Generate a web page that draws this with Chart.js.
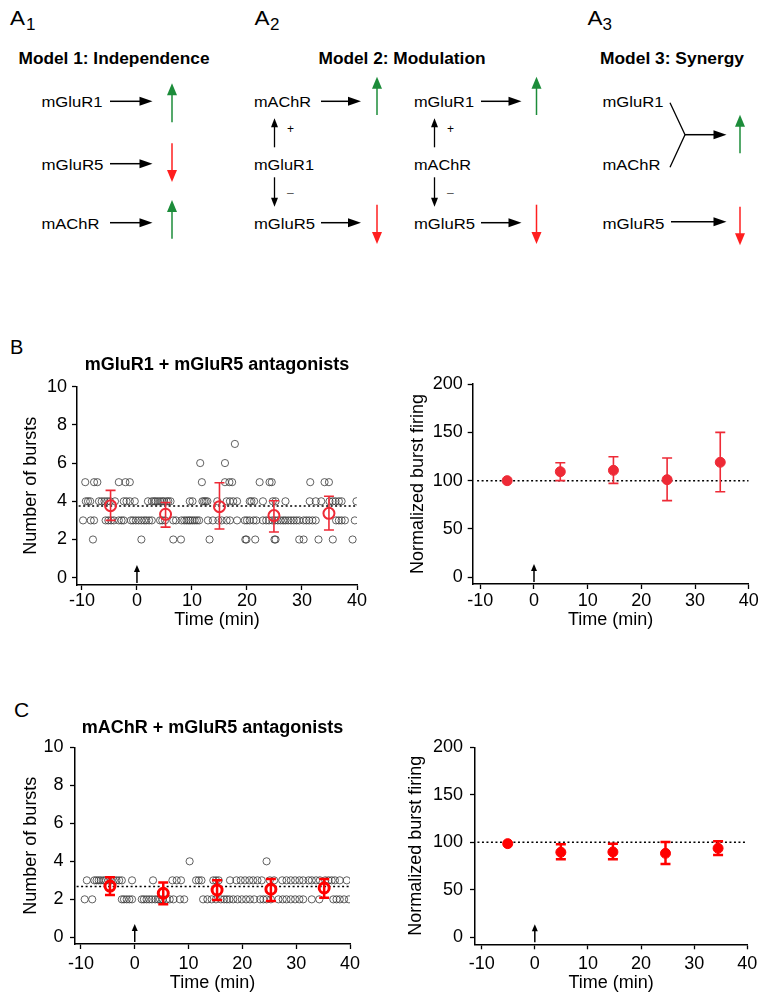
<!DOCTYPE html>
<html>
<head>
<meta charset="utf-8">
<script src="https://cdn.jsdelivr.net/npm/chart.js@4.4.0/dist/chart.umd.min.js"></script>
<style>
  body { margin: 0; background: #fff; width: 772px; height: 1006px; position: relative; overflow: hidden;
         font-family: "Liberation Sans", Arial, Helvetica, sans-serif; }
  canvas, svg, .lbl { position: absolute; }
  .lbl { color: #000; line-height: 1; }
</style>
</head>
<body>
<svg id="diagram" width="772" height="300" style="left:0;top:0"></svg>
<div class="lbl" style="left:10px;top:337px;font-size:20px">B</div>
<div class="lbl" style="left:14px;top:699px;font-size:21px">C</div>
<canvas id="bLeft" width="380" height="300" style="left:0;top:340px"></canvas>
<canvas id="bRight" width="377" height="300" style="left:395px;top:340px"></canvas>
<canvas id="cLeft" width="380" height="300" style="left:0;top:700px"></canvas>
<canvas id="cRight" width="377" height="300" style="left:395px;top:700px"></canvas>
<script>
const FONT = '"Liberation Sans", Arial, Helvetica, sans-serif';

// axes
const timeTicks = [-10, 0, 10, 20, 30, 40];
const countTicks = [0, 2, 4, 6, 8, 10];
const normTicks = [0, 50, 100, 150, 200];
const drugTime = 0;

// B: mGluR1 + mGluR5 antagonists -- minute-by-minute burst counts, times listed per count
const bTimes2 = [-8.0, 0.8, 6.6, 8.0, 13.2, 19.7, 19.9, 21.5, 25.0, 25.2, 29.5, 30.3, 33.0, 35.6, 39.2];
const bTimes3 = [-9.8, -8.4, -7.8, -5.7, -5.2, -4.7, -4.2, -3.3, -2.8, -2.4, -1.1, -0.7, -0.2, 0.3, 0.8, 1.3, 1.7,
  2.2, 2.7, 4.2, 4.6, 5.1, 6.6, 7.1, 8.1, 8.6, 9.0, 9.4, 9.7, 10.1, 10.5, 10.9, 11.3, 12.9, 13.8, 14.8, 15.4,
  16.3, 16.9, 18.2, 19.6, 20.0, 20.5, 21.2, 21.7, 22.9, 23.5, 24.0, 24.6, 25.1, 25.6, 26.1, 26.6, 27.0, 27.5,
  28.0, 28.5, 29.0, 29.5, 30.3, 30.8, 31.3, 31.9, 32.5, 36.2, 36.7, 37.2, 37.8, 39.6];
const bTimes4 = [-9.3, -8.9, -8.5, -6.9, -6.4, -5.9, -5.4, -4.9, -4.0, -2.4, -1.9, -1.3, -0.4, 2.0, 2.7, 3.1, 3.4,
  3.8, 4.2, 4.6, 4.9, 5.4, 5.7, 6.1, 9.6, 10.1, 11.9, 12.2, 12.5, 12.8, 14.6, 16.3, 16.9, 17.5, 18.2, 20.5,
  20.8, 21.3, 22.9, 24.7, 25.2, 27.0, 31.4, 32.5, 33.5, 35.0, 35.6, 36.1, 36.7, 37.2, 39.9];
const bTimes5 = [-9.4, -7.8, -7.2, -3.3, -2.1, -1.3, 11.8, 16.0, 16.8, 17.3, 22.3, 24.1, 24.5, 31.5, 34.1, 34.9];
const bTimes6 = [11.5, 16.0];
const bTimes7 = [17.8];
const bMeanTimes = [-4.8, 5.2, 15, 24.9, 34.9];
const bMean = [3.77, 3.32, 3.72, 3.25, 3.37];
const bLow = [3.0, 2.65, 2.55, 2.39, 2.5];
const bHigh = [4.57, 3.94, 4.97, 4.03, 4.26];
const bBaseline = 3.75;

const bNormTimes = [-5, 4.9, 14.8, 24.8, 34.7];
const bNorm = [100, 109.3, 110.7, 101, 119];
const bNormLow = [null, 100, 97.2, 79.3, 88.6];
const bNormHigh = [null, 118.6, 124.8, 123.4, 150];

// C: mAChR + mGluR5 antagonists
const cTimes2 = [-9.3, -7.9, -2.4, -2.0, -1.5, -1.0, -0.5, 1.3, 1.7, 2.2, 2.7, 3.2, 3.8, 4.3, 4.7, 5.2, 5.9, 6.5,
  7.2, 8.4, 9.2, 12.7, 13.5, 14.3, 15.1, 16.0, 16.6, 17.1, 17.6, 18.3, 19.1, 19.9, 20.7, 21.4, 22.2, 23.3, 23.9,
  24.5, 25.3, 26.7, 27.5, 28.2, 29.0, 29.8, 30.6, 31.3, 32.9, 34.3, 36.9, 37.5, 38.1, 38.9, 39.8];
const cTimes3 = [-8.9, -7.5, -7.1, -6.7, -6.3, -5.8, -5.4, -4.9, -4.4, -3.9, -3.4, -2.9, -2.4, -0.5, 3.4, 7.0, 7.8,
  8.6, 11.4, 11.9, 12.4, 14.6, 15.1, 15.6, 17.7, 18.9, 19.7, 20.5, 21.3, 22.0, 22.8, 23.6, 25.1, 25.9, 27.4,
  28.2, 29.0, 29.8, 30.6, 31.3, 32.3, 32.9, 33.7, 34.4, 35.4, 36.0, 36.6, 37.2, 38.1, 39.4];
const cTimes4 = [10.2, 24.5];
const cMeanTimes = [-4.6, 5.3, 15.3, 25.3, 35.2];
const cMean = [2.70, 2.32, 2.49, 2.53, 2.60];
const cLow = [2.23, 1.74, 1.96, 1.91, 2.09];
const cHigh = [3.16, 2.89, 3.0, 3.07, 3.07];
const cBaseline = 2.68;

const cNormTimes = [-5.1, 4.9, 14.7, 24.6, 34.5];
const cNorm = [98.6, 89.5, 89.8, 88.4, 93.7];
const cNormLow = [null, 82.1, 82.1, 77.2, 86.7];
const cNormHigh = [null, 97.9, 98.6, 100.4, 101];
const normBaseline = 100;

function toPoints(rows) {
  return rows.flatMap(([n, ts]) => ts.map(t => ({x: t, y: n})));
}

// error bars + drug arrow
const extrasPlugin = {
  id: 'extras',
  afterDatasetsDraw(chart, args, o) {
    const {ctx, chartArea} = chart;
    const x = chart.scales.x, y = chart.scales.y;
    ctx.save();
    ctx.strokeStyle = o.color;
    ctx.lineWidth = o.barWidth;
    o.times.forEach((t, i) => {
      if (o.low[i] == null) return;
      const px = x.getPixelForValue(t);
      const lo = y.getPixelForValue(o.low[i]);
      const hi = y.getPixelForValue(o.high[i]);
      ctx.beginPath();
      ctx.moveTo(px, lo); ctx.lineTo(px, hi);
      ctx.moveTo(px - o.cap, lo); ctx.lineTo(px + o.cap, lo);
      ctx.moveTo(px - o.cap, hi); ctx.lineTo(px + o.cap, hi);
      ctx.stroke();
    });
    const ax = x.getPixelForValue(drugTime);
    const base = chartArea.bottom - 2, tip = chartArea.bottom - 20;
    ctx.strokeStyle = '#000';
    ctx.fillStyle = '#000';
    ctx.lineWidth = 1.5;
    ctx.beginPath();
    ctx.moveTo(ax, base); ctx.lineTo(ax, tip + 6);
    ctx.stroke();
    ctx.beginPath();
    ctx.moveTo(ax, tip); ctx.lineTo(ax - 3, tip + 7); ctx.lineTo(ax + 3, tip + 7);
    ctx.closePath();
    ctx.fill();
    ctx.restore();
  }
};

function buildChart(id, o) {
  const datasets = [];
  if (o.scatter) {
    datasets.push({
      data: o.scatter, order: 3,
      pointRadius: 3.6, pointBorderWidth: 0.8,
      pointBorderColor: '#3a3a3a', pointBackgroundColor: 'rgba(0,0,0,0)'
    });
  }
  datasets.push({
    data: [{x: o.lineFrom, y: o.baseline}, {x: 40, y: o.baseline}], order: 2,
    showLine: true, borderColor: '#000', borderWidth: 1.5, borderDash: [2, 2.5], pointRadius: 0
  });
  datasets.push({
    data: o.meanTimes.map((t, i) => ({x: t, y: o.mean[i]})), order: 1,
    pointRadius: o.meanR, pointBorderWidth: o.meanW, pointBorderColor: o.color,
    pointBackgroundColor: o.filled ? o.color : 'rgba(0,0,0,0)'
  });
  const tickFont = {family: FONT, size: 18};
  return new Chart(document.getElementById(id), {
    type: 'scatter',
    data: {datasets},
    options: {
      responsive: false,
      animation: false,
      events: [],
      layout: {padding: {top: o.padTop || 0, right: o.padRight, left: 0, bottom: 0}},
      plugins: {
        legend: {display: false},
        tooltip: {enabled: false},
        title: {
          display: !!o.title, text: o.title, fullSize: false, color: '#000',
          font: {family: FONT, size: 18, weight: 'bold', lineHeight: 1.2},
          padding: {top: o.titleTop || 0, bottom: o.titleBottom || 0}
        },
        extras: {times: o.meanTimes, low: o.low, high: o.high, color: o.color, barWidth: o.barW, cap: 5}
      },
      scales: {
        x: {
          type: 'linear', min: o.xMin, max: 40,
          afterBuildTicks: s => { s.ticks = timeTicks.map(v => ({value: v})); },
          afterFit: s => { s.height = o.xh; s.paddingLeft = 0; s.paddingRight = 0; },
          grid: {drawOnChartArea: false, drawTicks: true, tickLength: 5, tickColor: '#000', tickWidth: 1.3},
          border: {display: true, color: '#000', width: 1.5},
          ticks: {color: '#000', font: tickFont, padding: o.xTickPad, autoSkip: false, maxRotation: 0},
          title: {display: true, text: 'Time (min)', color: '#000', font: tickFont,
                  padding: {top: 0, bottom: o.xTitlePad}}
        },
        y: {
          type: 'linear', min: o.yMin, max: o.yMax,
          afterBuildTicks: s => { s.ticks = o.yTicks.map(v => ({value: v})); },
          afterFit: s => { s.width = o.yw; s.paddingTop = 0; s.paddingBottom = 0; },
          grid: {drawOnChartArea: false, drawTicks: true, tickLength: 5, tickColor: '#000', tickWidth: 1.3},
          border: {display: true, color: '#000', width: 1.5},
          ticks: {color: '#000', font: tickFont, padding: o.yTickPad},
          title: {display: true, text: o.yTitle, color: '#000', font: tickFont,
                  padding: {top: o.yTitlePad, bottom: 0}}
        }
      }
    },
    plugins: [extrasPlugin]
  });
}

buildChart('bLeft', {
  scatter: toPoints([[2, bTimes2], [3, bTimes3], [4, bTimes4], [5, bTimes5], [6, bTimes6], [7, bTimes7]]),
  meanTimes: bMeanTimes, mean: bMean, low: bLow, high: bHigh, baseline: bBaseline, lineFrom: -10.6,
  color: '#ee2a36', filled: false, meanR: 5.5, meanW: 2, barW: 1.6,
  title: 'mGluR1 + mGluR5 antagonists', titleTop: 14, titleBottom: 11,
  padRight: 23, yw: 77, xh: 55, xMin: -10.9, yMin: -0.38, yMax: 10, yTicks: countTicks,
  yTitle: 'Number of bursts', yTitlePad: 20, yTickPad: 5, xTickPad: 0, xTitlePad: 9
});

buildChart('bRight', {
  meanTimes: bNormTimes, mean: bNorm, low: bNormLow, high: bNormHigh, baseline: normBaseline, lineFrom: -10.6,
  color: '#ee2a36', filled: true, meanR: 5, meanW: 1, barW: 1.6,
  padTop: 44, padRight: 23.3, yw: 77.7, xh: 56, xMin: -11.42, yMin: -6.9, yMax: 200, yTicks: normTicks,
  yTitle: 'Normalized burst firing', yTitlePad: 12, yTickPad: 5, xTickPad: 1, xTitlePad: 9
});

buildChart('cLeft', {
  scatter: toPoints([[2, cTimes2], [3, cTimes3], [4, cTimes4]]),
  meanTimes: cMeanTimes, mean: cMean, low: cLow, high: cHigh, baseline: cBaseline, lineFrom: -10.8,
  color: '#ff0000', filled: false, meanR: 5, meanW: 3, barW: 2.5,
  title: 'mAChR + mGluR5 antagonists', titleTop: 17, titleBottom: 8.7,
  padRight: 30, yw: 75, xh: 56, xMin: -11.1, yMin: -0.35, yMax: 10, yTicks: countTicks,
  yTitle: 'Number of bursts', yTitlePad: 20, yTickPad: 6.5, xTickPad: 4, xTitlePad: 6.5
});

buildChart('cRight', {
  meanTimes: cNormTimes, mean: cNorm, low: cNormLow, high: cNormHigh, baseline: normBaseline, lineFrom: -10.8,
  color: '#ff0000', filled: true, meanR: 5, meanW: 1, barW: 2.5,
  padTop: 47.3, padRight: 24.7, yw: 80, xh: 55.7, xMin: -11.26, yMin: -7.37, yMax: 200, yTicks: normTicks,
  yTitle: 'Normalized burst firing', yTitlePad: 10.7, yTickPad: 7, xTickPad: 4, xTitlePad: 6.5
});

// ---- model diagrams (A1-A3) ----
const NS = 'http://www.w3.org/2000/svg';
const svg = document.getElementById('diagram');
const GREEN = '#1c8c3a', RED = '#ff1f1f';

function el(tag, attrs) {
  const e = document.createElementNS(NS, tag);
  for (const k in attrs) e.setAttribute(k, attrs[k]);
  svg.appendChild(e);
  return e;
}
function txt(x, y, s, size, w, weight, fill) {
  const a = {x, y, 'font-size': size, 'font-family': FONT, fill: fill || '#000'};
  if (weight) a['font-weight'] = weight;
  if (w) { a.textLength = w; a.lengthAdjust = 'spacingAndGlyphs'; }
  el('text', a).textContent = s;
}
function arrow(x1, y1, x2, y2, color, len, half, lw) {
  const ang = Math.atan2(y2 - y1, x2 - x1);
  const c = Math.cos(ang), s = Math.sin(ang);
  const bx = x2 - len * c, by = y2 - len * s;
  el('line', {x1, y1, x2: bx + c, y2: by + s, stroke: color, 'stroke-width': lw});
  el('polygon', {points: `${x2},${y2} ${bx + half * s},${by - half * c} ${bx - half * s},${by + half * c}`, fill: color});
}
const blackArrow = (x1, x2, y) => arrow(x1, y, x2, y, '#000', 13, 4.5, 1.5);
const upArrow = (x, top, bottom) => arrow(x, bottom, x, top, GREEN, 12, 5, 1.5);
const downArrow = (x, top, bottom) => arrow(x, top, x, bottom, RED, 12, 5, 1.5);
const smallArrow = (x, from, to) => arrow(x, from, x, to, '#000', 9, 3.5, 1.3);

// panel letters
[[10, 26, '1'], [254.5, 270, '2'], [587.5, 602.5, '3']].forEach(([ax, sx, n]) => {
  txt(ax, 25, 'A', 21, 15);
  txt(sx, 29.5, n, 17);
});

// titles
txt(18.5, 64, 'Model 1: Independence', 16.5, 191, 'bold');
txt(318.5, 64, 'Model 2: Modulation', 16.5, 167, 'bold');
txt(600, 64, 'Model 3: Synergy', 16.5, 144, 'bold');

// model 1
txt(41.5, 107, 'mGluR1', 15.5, 61);
txt(41.5, 169.5, 'mGluR5', 15.5, 62);
txt(41.5, 228.5, 'mAChR', 15.5, 58);
blackArrow(110, 152.5, 101.3); blackArrow(110, 152.5, 163.7); blackArrow(110, 152.5, 222.7);
upArrow(172, 83.3, 122.3); downArrow(172, 143.3, 182); upArrow(172, 200, 238.7);

// model 2
txt(254, 107, 'mAChR', 15.5, 57);
txt(254, 169.5, 'mGluR1', 15.5, 60);
txt(254, 228.5, 'mGluR5', 15.5, 61);
txt(414, 107, 'mGluR1', 15.5, 60);
txt(414, 169.5, 'mAChR', 15.5, 57);
txt(414, 228.5, 'mGluR5', 15.5, 61);
blackArrow(321, 361, 101.3); blackArrow(321, 361, 222.7);
blackArrow(481, 521.5, 101.3); blackArrow(481, 521.5, 222.7);
upArrow(377, 76.7, 115); downArrow(377, 204.7, 244);
upArrow(536.5, 76.7, 115); downArrow(536.5, 204.7, 244);
[274.5, 434.5].forEach(x => {
  smallArrow(x, 147.3, 118.3);
  smallArrow(x, 177.3, 206.7);
  txt(x + 12.5, 132.5, '+', 12);
  txt(x + 12.5, 197, '\u2013', 12, null, null, '#555');
});

// model 3
txt(602.5, 107, 'mGluR1', 15.5, 61);
txt(602.5, 169.5, 'mAChR', 15.5, 58);
txt(602.5, 228.5, 'mGluR5', 15.5, 62);
el('polyline', {points: '670,102.7 685,134.7 670,167.3', fill: 'none', stroke: '#000', 'stroke-width': 1.3});
blackArrow(685, 726.5, 134.7);
blackArrow(671, 726.5, 221.7);
upArrow(740, 114.7, 153.3); downArrow(740, 206.7, 245.3);
</script>
</body>
</html>
